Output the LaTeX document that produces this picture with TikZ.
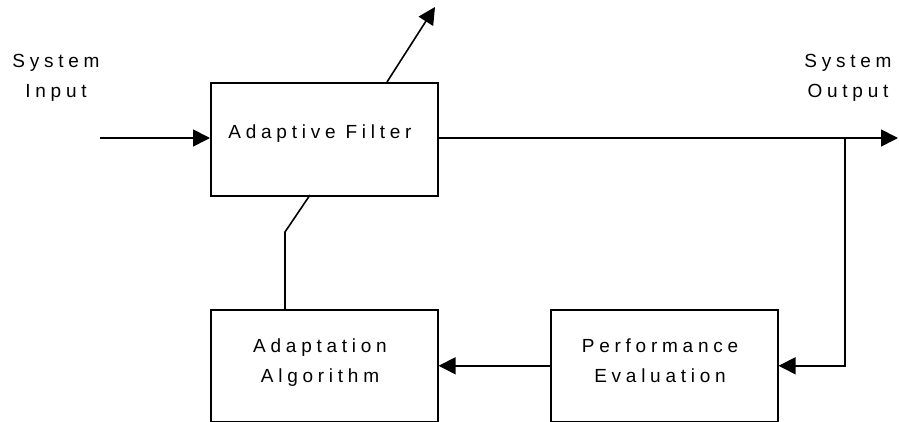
\documentclass[tikz,border=0pt]{standalone}
\usepackage{fontspec}
\setmainfont{Liberation Sans}[LetterSpace=25]
\usetikzlibrary{arrows.meta}
\begin{document}
\begin{tikzpicture}[x=1pt,y=-1pt,
  blk/.style={draw,line width=1.6pt,minimum width=227pt,minimum height=113pt,anchor=north west,inner sep=0pt},
  lbl/.style={font=\fontsize{19}{30}\selectfont,align=center,inner sep=0pt},
  conn/.style={line width=1.6pt},
  arr/.style={conn,-{Triangle[length=17pt,width=17pt]}}]
\useasboundingbox (0,0) rectangle (899,422);
% blocks
\node[blk] (af) at (210,82) {};
\node[blk,minimum height=112pt] (aa) at (210,309) {};
\node[blk,minimum height=112pt] (pe) at (550,309) {};
% labels
\node[lbl,anchor=base] (aftext) at (320,139) {Adaptive Filter};
\node[lbl,anchor=base] (aatext) at (320,382) {Adaptation\\Algorithm};
\node[lbl,anchor=base] (petext) at (660,382) {Performance\\Evaluation};
\node[lbl,anchor=base] (sin) at (56,98) {System\\Input};
\node[lbl,anchor=base] (sout) at (848,98) {System\\Output};
% coordinates
\coordinate (in) at (100,138);
\coordinate (out) at (898,138);
\coordinate (br) at (845,138);
\coordinate (upstart) at (387,82);
\coordinate (up) at (435,7);
\coordinate (ds) at (310,195);
\coordinate (kink) at (285,232);
% connectors
\draw[arr] (in) -- (af.west |- in);
\draw[arr] (af.east |- out) -- (out);
\draw[arr] (br) -- (br |- pe.east) -- (pe.east);
\draw[arr] (pe.west) -- (aa.east);
\draw[arr] (upstart) -- (up);
\draw[conn] (ds) -- (kink) -- (kink |- aa.north);
\end{tikzpicture}
\end{document}
